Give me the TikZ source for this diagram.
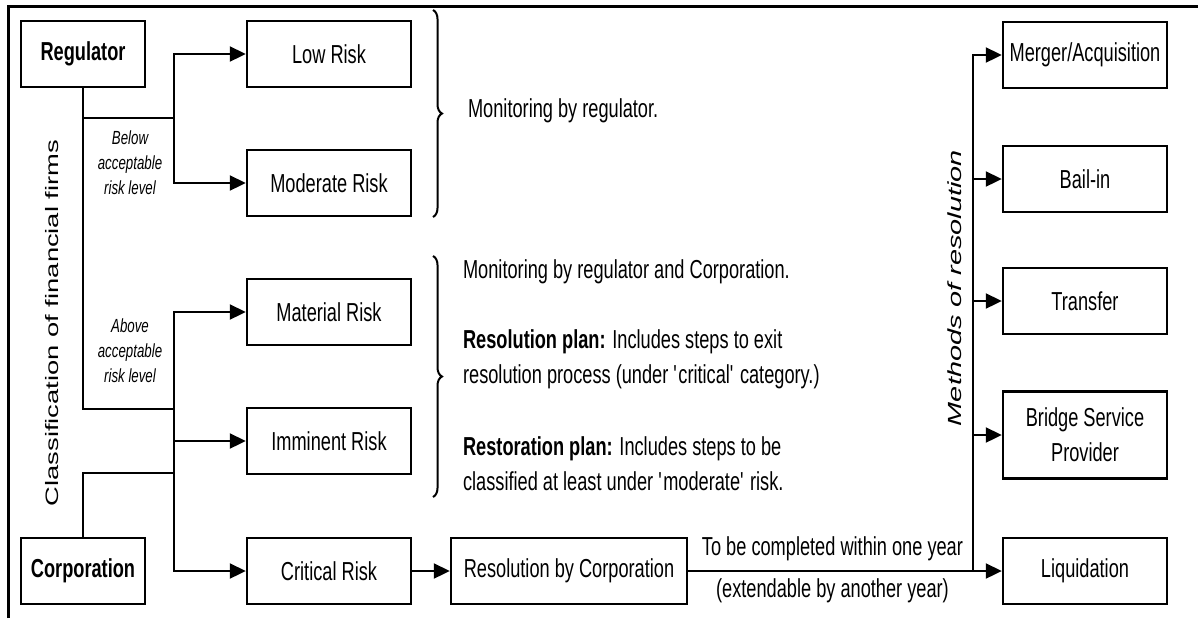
\documentclass[tikz,border=0pt]{standalone}
\usepackage{fontspec}
\setmainfont[FakeStretch=0.7]{Liberation Sans}
\newfontfamily\tallsans[FakeStretch=1.52]{Liberation Sans}
\usepackage{tikz}
\usetikzlibrary{arrows.meta,decorations.pathreplacing}

\begin{document}
\begin{tikzpicture}[x=0.5pt,y=-0.5pt,
	box/.style={draw,line width=1.2pt,minimum width=82pt,minimum height=33pt,inner sep=2pt,
		align=center,font=\fontsize{13}{17.5}\selectfont},
	sidebox/.style={box,minimum width=62pt,font=\fontsize{13}{17.5}\selectfont\bfseries},
	link/.style={line width=1pt},
	arr/.style={line width=1pt,-{Triangle[length=8pt,width=7.5pt]}},
	note/.style={anchor=west,align=left,font=\fontsize{13}{17.5}\selectfont},
	small/.style={align=center,font=\fontsize{9.5}{12.5}\selectfont\itshape},
	brc/.style={decorate,decoration={brace,amplitude=4.5pt},line width=1pt}]
				\useasboundingbox (0,0) rectangle (1198,618);
				%frame (top and left edges only)
				\draw[line width=1.5pt] (8,618)--(8,6)--(1198,6);

				%left column and risk levels
				\node[sidebox] (reg) at (83,54){Regulator};
				\node[sidebox] (corp) at (83,571){Corporation};
				\node[box] (low) at (329,54){Low Risk};
				\node[box] (mod) at (329,183){Moderate Risk};
				\node[box] (mat) at (329,312){Material Risk};
				\node[box] (imm) at (329,441){Imminent Risk};
				\node[box] (crit) at (329,571){Critical Risk};
				\node[box,minimum width=118pt] (res) at (569,571){Resolution by Corporation};

				%%methods of resolution
				\node[box] (merg) at (1085,55){Merger/Acquisition};
				\node[box] (bail) at (1085,179){Bail-in};
				\node[box] (tran) at (1085,301){Transfer};
				\node[box,minimum height=43.5pt] (brid) at (1085,435){Bridge Service\\Provider};
				\node[box] (liq) at (1085,571){Liquidation};

				\coordinate (jb) at (174,118);
				\coordinate (ja) at (174,409);
				\coordinate (jc) at (174,473);
				\coordinate (jm) at (973,571);

				\draw[link] (reg) |- (jb);
				\draw[link] (reg) |- (ja);
				\draw[link] (corp) |- (jc);
				\draw[arr] (jb) |- (low);
				\draw[arr] (jb) |- (mod);
				\draw[arr] (ja) |- (mat);
				\draw[arr] (ja) |- (imm);
				\draw[arr] (ja) |- (crit);
				\draw[arr] (crit)--(res);
				\draw[arr] (res)--
					node[pos=0.46,above=1pt,font=\fontsize{13}{15}\selectfont]{To be completed within one year}
					node[pos=0.46,below=0pt,font=\fontsize{13}{15}\selectfont]{(extendable by another year)} (liq);
				\foreach \m in {merg, bail, tran, brid}{
					\draw[arr] (jm) |- (\m);
					}

				%% side labels
				\node[small] (below) at (130,163){Below\\acceptable\\risk level};
				\node[small] (above) at (130,351){Above\\acceptable\\risk level};
				\node[rotate=90,font=\tallsans\fontsize{9}{11}\selectfont] (clas) at (52,323){Classification of financial firms};
				\node[rotate=90,font=\tallsans\itshape\fontsize{9.5}{11}\selectfont] (meth) at (955,288){Methods of resolution};

				%% braces and notes
				\draw[brc] (433,10)--(433,217);
				\draw[brc] (433,256)--(433,497);
				\node[note] (mon1) at (461,111){Monitoring by regulator.};
				\node[note] (mon2) at (456,272){Monitoring by regulator and Corporation.};
				\node[note] (rplan) at (456,359){\textbf{Resolution plan:} Includes steps to exit\\resolution process (under \textquotesingle critical\textquotesingle{} category.)};
				\node[note] (splan) at (456,464){\textbf{Restoration plan:} Includes steps to be\\classified at least under \textquotesingle moderate\textquotesingle{} risk.};
				\end{tikzpicture}
\end{document}
